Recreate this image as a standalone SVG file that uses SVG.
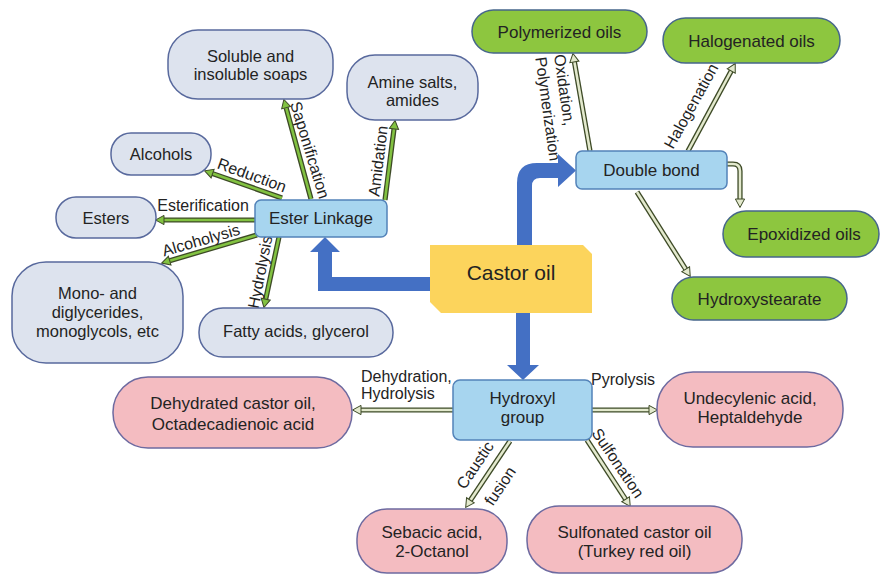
<svg xmlns="http://www.w3.org/2000/svg" width="881" height="577" viewBox="0 0 881 577">
  <style>
    text { font-family: "Liberation Sans", Arial, sans-serif; fill: #232323; }
    .node text { font-size: 17px; text-anchor: middle; }
    .grey rect { fill: #dde3ee; stroke: #58699d; stroke-width: 1.5; }
    .grey text { font-size: 16.5px; }
    .hub rect { fill: #a7d5ef; stroke: #5383b9; stroke-width: 1.5; }
    .green rect { fill: #8dc63f; stroke: #46668a; stroke-width: 1.5; }
    .pink rect { fill: #f4bcc1; stroke: #6d6aa0; stroke-width: 1.5; }
    .castor path { fill: #fcd45c; }
    .castor text { font-size: 21px; }
    .big { fill: #4470c4; }
    .lbl { font-size: 16px; }
    .mid { text-anchor: middle; }
    .g .o, .p .o { stroke: #3d4a26; stroke-width: 5.2; fill: none; }
    .g .i { stroke: #82c241; stroke-width: 2.6; fill: none; }
    .p .i { stroke: #e3e9cd; stroke-width: 2.6; fill: none; }
    .g .i { marker-end: url(#hg); }
    .p .i { marker-end: url(#hp); }
  </style>
  <defs>
    <marker id="hg" markerUnits="userSpaceOnUse" viewBox="-1 -6 11 12" markerWidth="11" markerHeight="12" refX="0" refY="0" orient="auto">
      <path d="M0,-4.6 L8.5,0 L0,4.6 Z" fill="#82c241" stroke="#3d4a26" stroke-width="1"/>
    </marker>
    <marker id="hp" markerUnits="userSpaceOnUse" viewBox="-1 -6 11 12" markerWidth="11" markerHeight="12" refX="0" refY="0" orient="auto">
      <path d="M0,-4.6 L8.5,0 L0,4.6 Z" fill="#e3e9cd" stroke="#3d4a26" stroke-width="1"/>
    </marker>
  </defs>

  <rect width="881" height="577" fill="#ffffff"/>

  <!-- thick blue feed arrows from the castor oil block -->
  <g id="feeds">
    <path class="big" d="M436,277 H332 V252 H340 L325,237 L310,252 H318 V291 H436 Z"/>
    <path class="big" d="M517,250 V183 Q517,163 537,163 H558 V154 L576,170.5 L558,187 V178 H540 Q532,178 532,186 V250 Z"/>
    <path class="big" d="M516,305 V365 H507 L523,380 L539,365 H530 V305 Z"/>
  </g>

  <!-- reaction connectors -->
  <g id="connectors">
    <g class="g"><line class="o" x1="311" y1="199" x2="286.1" y2="107.7"/><line class="i" x1="311" y1="199" x2="286.1" y2="107.7"/></g>
    <g class="g"><line class="o" x1="385" y1="200" x2="394" y2="128.9"/><line class="i" x1="385" y1="200" x2="394" y2="128.9"/></g>
    <g class="g"><line class="o" x1="282" y1="198" x2="212.6" y2="173.6"/><line class="i" x1="282" y1="198" x2="212.6" y2="173.6"/></g>
    <g class="g"><line class="o" x1="255" y1="220" x2="164" y2="220"/><line class="i" x1="255" y1="220" x2="164" y2="220"/></g>
    <g class="g"><line class="o" x1="257" y1="235" x2="169.7" y2="260.7"/><line class="i" x1="257" y1="235" x2="169.7" y2="260.7"/></g>
    <g class="g"><line class="o" x1="279" y1="237" x2="265.7" y2="299.2"/><line class="i" x1="279" y1="237" x2="265.7" y2="299.2"/></g>

    <g class="p"><line class="o" x1="590" y1="151" x2="574.4" y2="61.9"/><line class="i" x1="590" y1="151" x2="574.4" y2="61.9"/></g>
    <g class="p"><line class="o" x1="688" y1="151" x2="731.2" y2="71"/><line class="i" x1="688" y1="151" x2="731.2" y2="71"/></g>
    <g class="p"><path class="o" d="M727,164 H733 Q740,164 740,171 V199"/><path class="i" d="M727,164 H733 Q740,164 740,171 V199"/></g>
    <g class="p"><line class="o" x1="637" y1="192" x2="685.7" y2="269.2"/><line class="i" x1="637" y1="192" x2="685.7" y2="269.2"/></g>

    <g class="p"><line class="o" x1="453" y1="410" x2="361" y2="410"/><line class="i" x1="453" y1="410" x2="361" y2="410"/></g>
    <g class="p"><line class="o" x1="592" y1="410" x2="649" y2="410"/><line class="i" x1="592" y1="410" x2="649" y2="410"/></g>
    <g class="p"><line class="o" x1="510" y1="441" x2="470.4" y2="500.3"/><line class="i" x1="510" y1="441" x2="470.4" y2="500.3"/></g>
    <g class="p"><line class="o" x1="587" y1="440" x2="625.6" y2="499.3"/><line class="i" x1="587" y1="440" x2="625.6" y2="499.3"/></g>
  </g>

  <!-- reaction labels -->
  <g id="labels">
    <text class="lbl mid" transform="translate(310,150) rotate(73)" dy="0.35em">Saponification</text>
    <text class="lbl mid" transform="translate(378,161) rotate(-83)" dy="0.35em">Amidation</text>
    <text class="lbl mid" transform="translate(252,175) rotate(20)" dy="0.35em">Reduction</text>
    <text class="lbl mid" x="203" y="211">Esterification</text>
    <text class="lbl mid" transform="translate(201,240) rotate(-16)" dy="0.35em">Alcoholysis</text>
    <text class="lbl mid" transform="translate(260,272) rotate(-79)" dy="0.35em">Hydrolysis</text>
    <g transform="translate(554,55) rotate(82)">
      <text class="lbl" x="0" y="0">Oxidation,</text>
      <text class="lbl" x="0" y="19">Polymerization</text>
    </g>
    <text class="lbl mid" transform="translate(691,106) rotate(-61)" dy="0.35em">Halogenation</text>
    <text class="lbl" x="361" y="382">Dehydration,</text>
    <text class="lbl" x="361" y="399">Hydrolysis</text>
    <text class="lbl" x="591" y="385">Pyrolysis</text>
    <text class="lbl mid" transform="translate(475,465) rotate(-56)" dy="0.35em">Caustic</text>
    <text class="lbl mid" transform="translate(500,486) rotate(-56)" dy="0.35em">fusion</text>
    <text class="lbl mid" transform="translate(618,463) rotate(56)" dy="0.35em">Sulfonation</text>
  </g>

  <!-- ester linkage products -->
  <g id="soaps" class="node grey">
    <rect x="168" y="30" width="165" height="69" rx="30"/>
    <text x="250.5" y="62">Soluble and</text>
    <text x="250.5" y="80">insoluble soaps</text>
  </g>
  <g id="amines" class="node grey">
    <rect x="347" y="55" width="131" height="65" rx="28"/>
    <text x="412.5" y="88">Amine salts,</text>
    <text x="412.5" y="106">amides</text>
  </g>
  <g id="alcohols" class="node grey">
    <rect x="111" y="133" width="100" height="42" rx="20"/>
    <text x="161" y="160">Alcohols</text>
  </g>
  <g id="esters" class="node grey">
    <rect x="56" y="197" width="100" height="41" rx="20"/>
    <text x="106" y="223.5">Esters</text>
  </g>
  <g id="glycerides" class="node grey">
    <rect x="12" y="262" width="171" height="101" rx="34"/>
    <text x="97.5" y="299">Mono- and</text>
    <text x="97.5" y="318">diglycerides,</text>
    <text x="97.5" y="337">monoglycols, etc</text>
  </g>
  <g id="fatty" class="node grey">
    <rect x="199" y="308" width="194" height="49" rx="24"/>
    <text x="296" y="337">Fatty acids, glycerol</text>
  </g>

  <!-- reactive sites -->
  <g id="ester-linkage" class="node hub">
    <rect x="255" y="200" width="132" height="37" rx="6"/>
    <text x="321" y="223.5">Ester Linkage</text>
  </g>
  <g id="double-bond" class="node hub">
    <rect x="576" y="151" width="151" height="38" rx="6"/>
    <text x="651.5" y="176">Double bond</text>
  </g>
  <g id="hydroxyl" class="node hub">
    <rect x="453" y="380" width="139" height="60" rx="7"/>
    <text x="522.5" y="404">Hydroxyl</text>
    <text x="522.5" y="423">group</text>
  </g>

  <!-- double bond products -->
  <g id="polymerized" class="node green">
    <rect x="472" y="10" width="175" height="43" rx="21.5"/>
    <text x="559.5" y="37.5">Polymerized oils</text>
  </g>
  <g id="halogenated" class="node green">
    <rect x="663" y="18" width="177" height="45" rx="22.5"/>
    <text x="751.5" y="46.5">Halogenated oils</text>
  </g>
  <g id="epoxidized" class="node green">
    <rect x="723" y="211" width="156" height="46" rx="23"/>
    <text x="804" y="240">Epoxidized oils</text>
  </g>
  <g id="hydroxystearate" class="node green">
    <rect x="672" y="277" width="175" height="43" rx="21.5"/>
    <text x="759.5" y="304.5">Hydroxystearate</text>
  </g>

  <!-- hydroxyl group products -->
  <g id="dehydrated" class="node pink">
    <rect x="113" y="377" width="239" height="71" rx="35"/>
    <text x="233" y="409">Dehydrated castor oil,</text>
    <text x="233" y="430">Octadecadienoic acid</text>
  </g>
  <g id="undecylenic" class="node pink">
    <rect x="657" y="372" width="186" height="75" rx="36"/>
    <text x="750" y="404">Undecylenic acid,</text>
    <text x="750" y="423">Heptaldehyde</text>
  </g>
  <g id="sebacic" class="node pink">
    <rect x="357" y="509" width="150" height="64" rx="30"/>
    <text x="432" y="538">Sebacic acid,</text>
    <text x="432" y="557">2-Octanol</text>
  </g>
  <g id="sulfonated" class="node pink">
    <rect x="527" y="506" width="215" height="67" rx="32"/>
    <text x="634.5" y="538">Sulfonated castor oil</text>
    <text x="634.5" y="557">(Turkey red oil)</text>
  </g>

  <!-- source block -->
  <g id="castor-oil" class="node castor">
    <path d="M430,245 H583 L592,254 V313 H441 L430,302 Z"/>
    <text x="511" y="280">Castor oil</text>
  </g>
</svg>
